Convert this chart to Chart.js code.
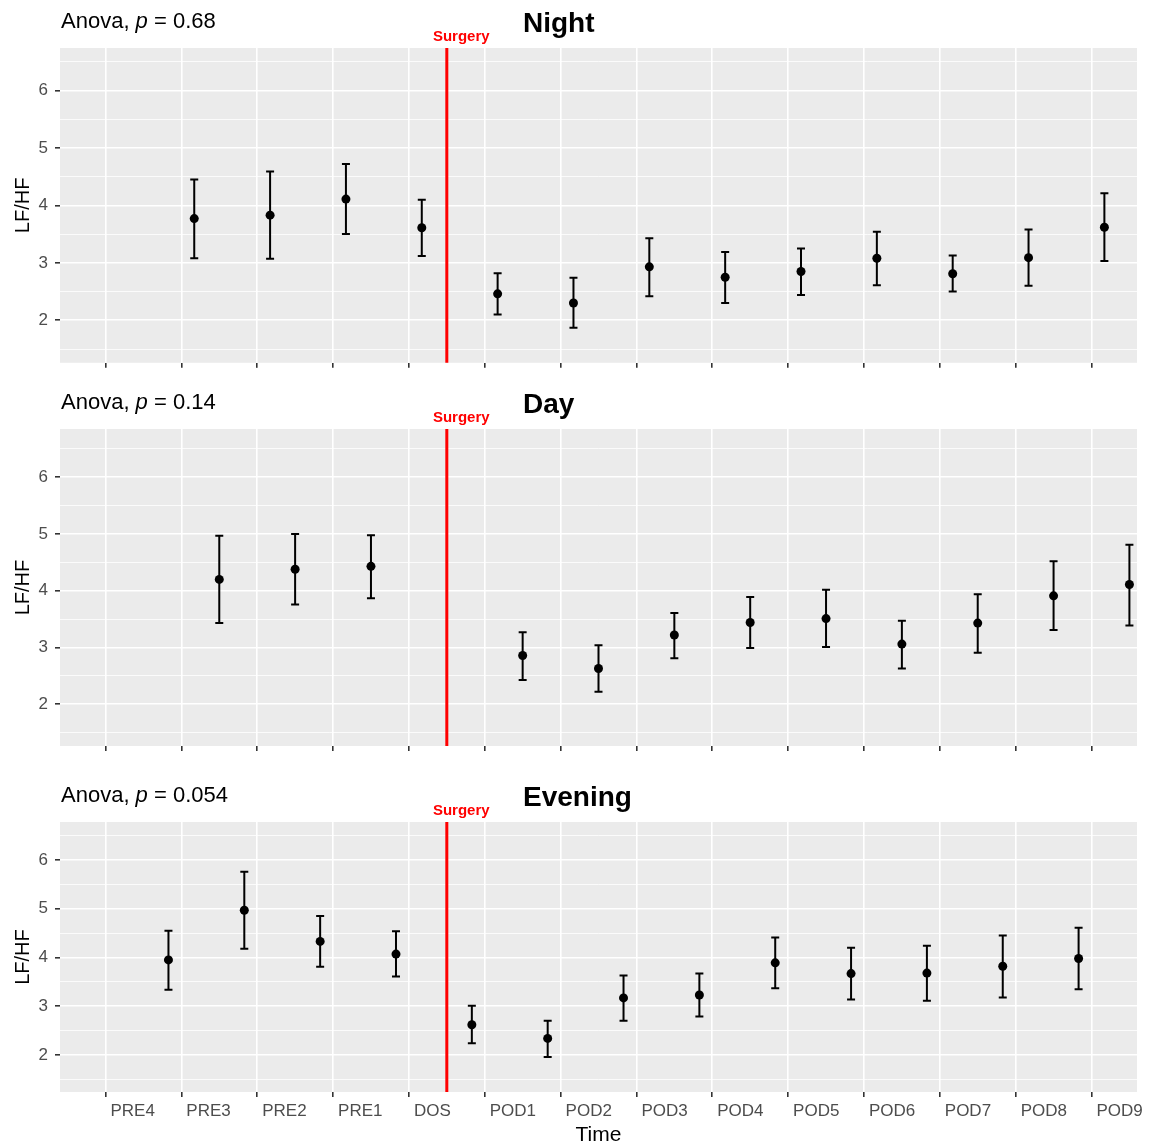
<!DOCTYPE html>
<html>
<head>
<meta charset="utf-8">
<script src="https://cdn.jsdelivr.net/npm/chart.js@4.4.0/dist/chart.umd.min.js"></script>
<style>
  body { margin: 0; background: #fff; }
  canvas { position: absolute; left: 0; }
</style>
</head>
<body>
<canvas id="night" width="1150" height="380" style="top:0px;width:1150px;height:380px"></canvas>
<canvas id="day" width="1150" height="385" style="top:380px;width:1150px;height:385px"></canvas>
<canvas id="evening" width="1150" height="379" style="top:765px;width:1150px;height:379px"></canvas>
<script>
// time points on the x axis
const timeLabels = ["PRE4", "PRE3", "PRE2", "PRE1", "DOS", "POD1", "POD2", "POD3",
  "POD4", "POD5", "POD6", "POD7", "POD8", "POD9"];
const yTicks = [2, 3, 4, 5, 6];
const surgeryAt = 5.5;   // between DOS and POD1

// Night
const nightTimes = ["PRE3", "PRE2", "PRE1", "DOS", "POD1", "POD2", "POD3", "POD4", "POD5", "POD6", "POD7", "POD8", "POD9"];
const nightMean = [3.77, 3.83, 4.11, 3.61, 2.46, 2.30, 2.93, 2.75, 2.85, 3.08, 2.81, 3.09, 3.62];
const nightLow  = [3.08, 3.07, 3.50, 3.12, 2.10, 1.87, 2.42, 2.30, 2.44, 2.61, 2.50, 2.60, 3.03];
const nightHigh = [4.45, 4.59, 4.72, 4.10, 2.82, 2.74, 3.43, 3.19, 3.25, 3.54, 3.13, 3.58, 4.21];

// Day
const dayTimes = ["PRE3", "PRE2", "PRE1", "POD1", "POD2", "POD3", "POD4", "POD5", "POD6", "POD7", "POD8", "POD9"];
const dayMean = [4.20, 4.38, 4.43, 2.86, 2.63, 3.22, 3.44, 3.51, 3.06, 3.43, 3.91, 4.11];
const dayLow  = [3.43, 3.76, 3.87, 2.43, 2.22, 2.81, 2.99, 3.01, 2.63, 2.91, 3.31, 3.39];
const dayHigh = [4.97, 5.00, 4.98, 3.27, 3.04, 3.61, 3.89, 4.02, 3.47, 3.94, 4.52, 4.81];

// Evening
const eveTimes = ["PRE4", "PRE3", "PRE2", "PRE1", "DOS", "POD1", "POD2", "POD3", "POD4", "POD5", "POD6", "POD7", "POD8"];
const eveMean = [3.95, 4.97, 4.33, 4.07, 2.62, 2.34, 3.17, 3.23, 3.89, 3.67, 3.68, 3.82, 3.98];
const eveLow  = [3.34, 4.18, 3.81, 3.61, 2.24, 1.96, 2.70, 2.79, 3.37, 3.14, 3.11, 3.18, 3.35];
const eveHigh = [4.55, 5.76, 4.85, 4.54, 3.01, 2.70, 3.63, 3.67, 4.41, 4.20, 4.24, 4.45, 4.61];

const FONT = "'Liberation Sans', Arial, Helvetica, sans-serif";

function points(times, mean, low, high, shift) {
  return times.map((t, i) => ({
    x: timeLabels.indexOf(t) + 1 + shift,
    y: mean[i],
    low: low[i],
    high: high[i]
  }));
}

const panelPlugin = {
  id: "panel",
  beforeDraw(chart) {
    const { ctx, chartArea: a } = chart;
    ctx.save();
    ctx.fillStyle = "#EBEBEB";
    ctx.fillRect(a.left, a.top, a.right - a.left, a.bottom - a.top);
    ctx.restore();
  },
  beforeDatasetsDraw(chart) {
    const { ctx, chartArea: a, scales: { x, y } } = chart;
    ctx.save();
    // surgery line
    const sx = x.getPixelForValue(surgeryAt);
    ctx.strokeStyle = "#FF0000";
    ctx.lineWidth = 3;
    ctx.beginPath();
    ctx.moveTo(sx, a.top);
    ctx.lineTo(sx, a.bottom);
    ctx.stroke();
    // error bars
    ctx.strokeStyle = "#000";
    ctx.lineWidth = 2;
    chart.data.datasets[0].data.forEach(p => {
      const px = x.getPixelForValue(p.x);
      const lo = y.getPixelForValue(p.low);
      const hi = y.getPixelForValue(p.high);
      ctx.beginPath();
      ctx.moveTo(px, lo); ctx.lineTo(px, hi);
      ctx.moveTo(px - 4, lo); ctx.lineTo(px + 4, lo);
      ctx.moveTo(px - 4, hi); ctx.lineTo(px + 4, hi);
      ctx.stroke();
    });
    ctx.restore();
  },
  afterDraw(chart, args, opts) {
    const { ctx, chartArea: a, scales: { x } } = chart;
    ctx.save();
    ctx.textBaseline = "alphabetic";
    ctx.textAlign = "left";

    // Anova, p = ...
    let tx = 61;
    const ty = a.top - 20;
    ctx.fillStyle = "#000";
    ctx.font = "22px " + FONT;
    ctx.fillText("Anova, ", tx, ty);
    tx += ctx.measureText("Anova, ").width;
    ctx.font = "italic 22px " + FONT;
    ctx.fillText("p", tx, ty);
    tx += ctx.measureText("p").width;
    ctx.font = "22px " + FONT;
    ctx.fillText(" = " + opts.p, tx, ty);

    // title
    ctx.font = "bold 28px " + FONT;
    ctx.fillText(opts.title, 523, a.top - 16);

    // Surgery label
    ctx.fillStyle = "#FF0000";
    ctx.font = "bold 15px " + FONT;
    ctx.textAlign = "center";
    ctx.fillText("Surgery", x.getPixelForValue(surgeryAt + 0.19), a.top - 7);

    // y title
    ctx.fillStyle = "#000";
    ctx.font = "20px " + FONT;
    ctx.translate(29, (a.top + a.bottom) / 2);
    ctx.rotate(-Math.PI / 2);
    ctx.fillText("LF/HF", 0, 0);
    ctx.setTransform(1, 0, 0, 1, 0, 0);

    if (opts.xTitle) {
      ctx.font = "21px " + FONT;
      ctx.textAlign = "center";
      ctx.fillText(opts.xTitle, (a.left + a.right) / 2, chart.height - 3);
    }
    ctx.restore();
  }
};

function makePanel(id, data, cfg) {
  return new Chart(document.getElementById(id), {
    type: "scatter",
    data: {
      datasets: [{
        data,
        backgroundColor: "#000",
        borderColor: "#000",
        pointRadius: 4.5,
        pointHoverRadius: 4.5,
        borderWidth: 0
      }]
    },
    plugins: [panelPlugin],
    options: {
      responsive: false,
      animation: false,
      devicePixelRatio: 1,
      layout: { padding: { top: cfg.top, right: 13, left: 0, bottom: 0 } },
      plugins: {
        legend: { display: false },
        tooltip: { enabled: false },
        panel: { p: cfg.p, title: cfg.title, xTitle: cfg.xTitle }
      },
      scales: {
        x: {
          type: "linear",
          min: 0.4,
          max: 14.6,
          afterBuildTicks: s => { s.ticks = timeLabels.map((_, i) => ({ value: i + 1 })); },
          afterFit: s => { s.height = cfg.xHeight; },
          border: { display: false },
          grid: {
            color: "#FFFFFF",
            lineWidth: 1.6,
            tickColor: "#333333",
            tickLength: 5
          },
          ticks: {
            display: cfg.showLabels,
            callback: v => timeLabels[v - 1],
            align: "start",
            labelOffset: 5,
            padding: 4,
            maxRotation: 0,
            autoSkip: false,
            color: "#4D4D4D",
            font: { family: FONT, size: 17 }
          }
        },
        y: {
          min: cfg.yMin,
          max: cfg.yMax,
          afterBuildTicks: s => {
            const t = [];
            yTicks.forEach(v => { t.push({ value: v - 0.5 }); t.push({ value: v }); });
            t.push({ value: yTicks[yTicks.length - 1] + 0.5 });
            s.ticks = t;
          },
          afterFit: s => { s.width = 60; },
          border: { display: false },
          grid: {
            color: "#FFFFFF",
            lineWidth: c => Number.isInteger(c.tick.value) ? 1.6 : 0.8,
            tickColor: c => Number.isInteger(c.tick.value) ? "#333333" : "rgba(0,0,0,0)",
            tickLength: 5
          },
          ticks: {
            callback: v => Number.isInteger(v) ? String(v) : "",
            padding: 7,
            color: "#4D4D4D",
            font: { family: FONT, size: 17 }
          }
        }
      }
    }
  });
}

makePanel("night", points(nightTimes, nightMean, nightLow, nightHigh, 0.17), {
  top: 48, xHeight: 15, yMin: 1.26, yMax: 6.74, p: "0.68", title: "Night", showLabels: false
});
makePanel("day", points(dayTimes, dayMean, dayLow, dayHigh, 0.5), {
  top: 49, xHeight: 19, yMin: 1.265, yMax: 6.85, p: "0.14", title: "Day", showLabels: false
});
makePanel("evening", points(eveTimes, eveMean, eveLow, eveHigh, 0.83), {
  top: 57, xHeight: 52, yMin: 1.24, yMax: 6.78, p: "0.054", title: "Evening", showLabels: true, xTitle: "Time"
});
</script>
</body>
</html>
